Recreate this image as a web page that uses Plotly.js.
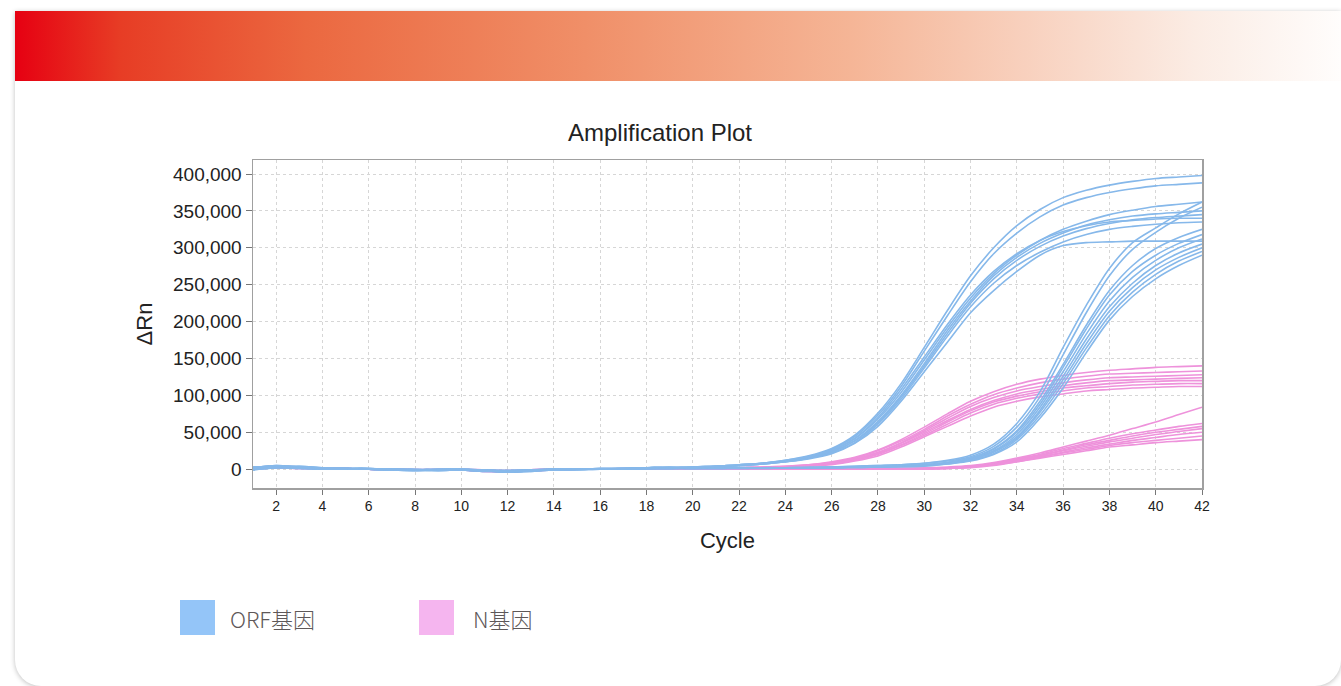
<!DOCTYPE html>
<html>
<head>
<meta charset="utf-8">
<script src="https://cdn.plot.ly/plotly-3.0.1.min.js"></script>
<style>
html,body{margin:0;padding:0;background:#fff;width:1341px;height:686px;overflow:hidden;}
#card{position:absolute;left:15px;top:11px;width:1326px;height:675px;background:#fff;border-radius:0 0 26px 26px;box-shadow:0 1px 5px rgba(0,0,0,0.25);overflow:hidden;}
#band{position:absolute;left:0;top:0;width:100%;height:70px;background:linear-gradient(to right,#e60012 0%,#e73d25 8%,#eb6840 22%,#f08f68 43%,#f5b596 63%,#f8d0bd 76%,#fbece4 89%,#fffdfc 100%);}
#chart{position:absolute;left:0;top:0;width:1341px;height:686px;}
</style>
</head>
<body>
<div id="card"><div id="band"></div></div>
<div id="chart"></div>
<script>
// Cycle numbers (x values)
const cycles = [1,2,3,4,5,6,7,8,9,10,11,12,13,14,15,16,17,18,19,20,21,22,23,24,25,26,27,28,29,30,31,32,33,34,35,36,37,38,39,40,41,42];

// ΔRn values, in thousands
const orfEarly = [
  [1,4,3,1,1,0,-1,-1,-1,-1,-2,-3,-1,0,0,0,1,1,1, 3,4,6,8,12,18,28,46,76,116,165,215,262,300,330,352,368,378,385,390,394,396,398],
  [0,3,2,1,1,1,0,-1,0,-1,-3,-3,-2,-1,0,0,0,1,2, 3,4,5,8,11,17,27,44,73,112,160,208,254,292,320,342,358,368,375,380,384,386,388],
  [2,5,3,1,0,0,-1,-2,-1,0,-2,-4,-2,0,0,1,1,2,2, 2,4,5,7,11,16,25,41,68,104,148,192,232,265,290,310,325,336,345,351,356,359,362],
  [-1,2,2,1,1,1,0,0,-1,-1,-2,-2,-1,0,0,0,0,1,1, 3,4,6,8,11,16,24,39,65,100,143,188,228,262,287,306,320,331,338,343,346,348,350],
  [1,3,4,2,1,0,0,-1,-1,0,-1,-3,-2,-1,0,0,1,2,2, 2,3,5,7,10,15,23,38,63,98,140,184,225,258,283,302,316,326,333,338,341,343,345],
  [0,2,1,0,0,0,-1,-1,-2,-1,-2,-4,-3,-1,-1,0,0,1,1, 2,3,5,7,10,15,22,36,61,95,137,180,220,252,276,294,308,318,325,329,332,334,335],
  [3,4,2,1,1,0,0,-1,0,0,-1,-2,-1,0,0,1,1,2,3, 2,3,5,7,10,14,21,35,58,92,132,172,212,242,268,290,303,307,308,309,309,309,309],
  [1,3,3,1,1,0,0,-1,-1,-1,-2,-3,-2,0,0,0,1,1,2, 3,4,6,8,12,17,26,42,70,108,152,196,236,268,292,310,322,330,335,337,339,340,340]
];
const orfLate = [
  [2,5,3,1,0,0,-1,-2,-1,0,-2,-4,-2,0,0,1,1,2,2, 2,2,2,2,2,3,3,4,5,6,8,12,19,34,62,105,165,222,272,307,327,346,362],
  [1,4,3,1,1,0,-1,-1,-1,-1,-2,-3,-1,0,0,0,1,1,1, 2,2,2,2,2,2,3,4,5,6,8,11,17,31,57,98,155,212,262,298,321,340,355],
  [0,3,2,1,1,1,0,-1,0,-1,-3,-3,-2,-1,0,0,0,1,2, 1,2,2,2,2,2,3,3,4,5,6,9,15,28,52,92,142,195,242,276,299,314,325],
  [-1,2,2,1,1,1,0,0,-1,-1,-2,-2,-1,0,0,0,0,1,1, 1,1,2,2,2,2,3,3,4,5,6,9,15,27,50,88,138,190,236,268,290,306,318],
  [1,3,4,2,1,0,0,-1,-1,0,-1,-3,-2,-1,0,0,1,2,2, 2,2,2,2,2,2,2,3,4,5,6,9,14,25,47,84,132,183,228,260,283,300,312],
  [0,2,1,0,0,0,-1,-1,-2,-1,-2,-4,-3,-1,-1,0,0,1,1, 1,1,1,2,2,2,2,3,3,4,5,8,13,24,44,80,126,176,220,252,276,293,305],
  [3,4,2,1,1,0,0,-1,0,0,-1,-2,-1,0,0,1,1,2,3, 1,2,2,2,2,2,2,3,3,4,5,8,13,23,42,77,121,170,214,246,270,287,300],
  [2,4,3,1,1,0,0,-1,-1,-1,-2,-3,-2,-1,0,0,1,1,2, 1,1,2,2,2,2,2,3,3,4,5,7,12,21,40,73,116,164,208,240,264,282,295],
  [0,3,3,1,0,0,-1,-1,-1,0,-2,-3,-2,0,0,0,0,1,1, 1,1,1,1,2,2,2,2,3,3,4,7,11,20,37,69,110,158,202,234,258,276,290]
];
const nEarly = [
  [1,4,3,1,1,0,-1,-1,-1,-1,-2,-3,-1,0,0,0,0,1,1, 1,1,2,3,4,6,10,16,26,40,57,75,92,105,115,122,127,131,134,136,138,139,140],
  [0,3,3,1,1,0,0,-1,-1,-1,-3,-4,-2,-1,0,0,0,0,1, 1,1,2,3,4,6,9,15,25,38,54,72,88,101,110,117,122,126,129,130,131,132,133],
  [2,4,2,1,0,0,-1,-1,-1,0,-2,-3,-2,0,0,0,1,1,1, 1,1,2,2,3,5,8,14,23,36,52,69,85,97,106,112,117,121,124,125,126,127,128],
  [0,2,2,1,1,0,0,0,-1,-1,-2,-3,-1,0,0,0,0,0,0, 0,1,1,2,3,5,8,13,22,35,50,66,81,93,102,108,113,117,120,121,122,123,124],
  [1,3,3,1,0,0,0,-1,-1,0,-1,-2,-1,0,0,0,0,1,1, 1,1,1,2,3,5,7,12,21,33,48,64,79,91,99,105,110,113,116,118,119,120,120],
  [0,2,1,0,0,0,-1,-1,-1,-1,-2,-3,-2,-1,0,0,0,0,0, 0,1,1,2,3,4,7,12,20,32,46,61,76,88,96,102,106,110,112,114,115,116,116],
  [2,3,2,1,1,0,0,-1,0,0,-2,-3,-1,0,0,0,0,0,1, 0,0,1,2,3,4,6,11,18,30,44,58,72,84,92,98,102,106,108,110,111,112,112]
];
const nLate = [
  [1,3,2,1,0,0,-1,-1,-1,-1,-2,-3,-2,0,0,0,0,0,0, 0,0,0,1,1,1,1,1,1,1,2,3,5,9,15,22,30,38,46,55,64,74,84],
  [0,2,2,1,1,0,0,-1,-1,0,-2,-4,-2,-1,0,0,0,0,0, 0,0,0,0,1,1,1,1,1,1,1,2,4,8,14,20,28,35,42,48,53,58,62],
  [2,4,3,1,0,0,0,-1,-1,-1,-2,-3,-1,0,0,0,0,0,0, 0,0,0,0,0,1,1,1,1,1,1,2,4,7,13,19,26,33,39,45,50,54,58],
  [0,3,2,1,1,0,-1,-1,-1,0,-2,-3,-2,0,0,0,0,1,1, 1,1,1,1,1,1,1,1,1,1,1,2,3,7,12,18,25,31,37,42,47,51,55],
  [1,2,2,0,0,0,0,-1,-1,-1,-3,-3,-2,-1,0,0,0,0,0, 0,0,0,0,0,0,0,1,1,1,1,1,3,6,11,17,23,29,34,39,43,47,50],
  [1,3,2,1,1,0,-1,-1,0,0,-2,-2,-1,0,0,0,0,0,0, 0,0,0,0,0,0,0,0,0,0,0,1,3,6,10,16,22,27,32,36,39,42,45],
  [0,2,1,1,0,0,0,-1,-1,-1,-2,-3,-2,-1,0,0,0,0,0, 0,0,0,0,0,0,0,0,1,1,0,1,2,5,10,15,20,25,30,33,36,38,40]
];

const xTicks = [2,4,6,8,10,12,14,16,18,20,22,24,26,28,30,32,34,36,38,40,42];
const yTicks = [0,50000,100000,150000,200000,250000,300000,350000,400000];
const legendNames = ['ORF基因','N基因'];

const BLUE = '#86b8ea', PINK = '#ee92db';
const traces = [];
function addGroup(group, color){
  group.forEach(function(s){
    traces.push({x: cycles, y: s.map(function(v){return v*1000;}), type:'scatter', mode:'lines',
      line:{color:color, width:1.6, shape:'spline', smoothing:0.8}, hoverinfo:'skip'});
  });
}
addGroup(nLate, PINK);
addGroup(nEarly, PINK);
addGroup(orfLate, BLUE);
addGroup(orfEarly, BLUE);

// plot area: x 253..1202, y 160..488
const PW = 949, PH = 328;
function px(x){return (x-253)/PW;}
function py(y){return (488-y)/PH;}

const FONT = 'Liberation Sans, Arial, sans-serif';
const layout = {
  width:1341, height:686,
  margin:{l:253, r:139, t:160, b:198, pad:0},
  paper_bgcolor:'rgba(0,0,0,0)', plot_bgcolor:'#ffffff',
  showlegend:false, hovermode:false,
  title:{text:'Amplification Plot', font:{family:FONT, size:24, color:'#222'},
    x:660/1341, xref:'container', xanchor:'center', y:1-133/686, yref:'container', yanchor:'middle'},
  xaxis:{range:[1,42], tickvals:xTicks, ticks:'outside', ticklen:5, tickcolor:'#777', tickwidth:1,
    showline:true, mirror:true, linecolor:'#a0a0a0', linewidth:1.5,
    showgrid:true, gridcolor:'#d6d6d6', gridwidth:1, griddash:'3px,3px', zeroline:false,
    tickfont:{family:FONT, size:14, color:'#222'},
    title:{text:'Cycle', font:{family:FONT, size:22, color:'#222'}, standoff:19}},
  yaxis:{range:[-25500,419000], tickvals:yTicks, tickformat:',', ticks:'outside', ticklen:6, tickcolor:'#777', tickwidth:1,
    showline:true, mirror:true, linecolor:'#a0a0a0', linewidth:1.5,
    showgrid:true, gridcolor:'#d6d6d6', gridwidth:1, griddash:'3px,3px', zeroline:false,
    tickfont:{family:FONT, size:19, color:'#222'},
    title:{text:'ΔRn', font:{family:FONT, size:22, color:'#222'}, standoff:14}},
  shapes:[
    {type:'rect', xref:'paper', yref:'paper', x0:px(180), x1:px(215), y0:py(635), y1:py(600), fillcolor:'#94c5f8', line:{width:0}},
    {type:'rect', xref:'paper', yref:'paper', x0:px(419), x1:px(454), y0:py(635), y1:py(600), fillcolor:'#f5b5ef', line:{width:0}}
  ],
  annotations:[
    {xref:'paper', yref:'paper', x:px(228), y:py(618), xanchor:'left', yanchor:'middle', showarrow:false, text:legendNames[0],
      font:{family:'Noto Sans CJK SC, Noto Sans, sans-serif', size:22, weight:300, color:'#5e5858'}},
    {xref:'paper', yref:'paper', x:px(471), y:py(618), xanchor:'left', yanchor:'middle', showarrow:false, text:legendNames[1],
      font:{family:'Noto Sans CJK SC, Noto Sans, sans-serif', size:22, weight:300, color:'#5e5858'}}
  ]
};
Plotly.newPlot('chart', traces, layout, {staticPlot:true, displayModeBar:false});
</script>
</body>
</html>
